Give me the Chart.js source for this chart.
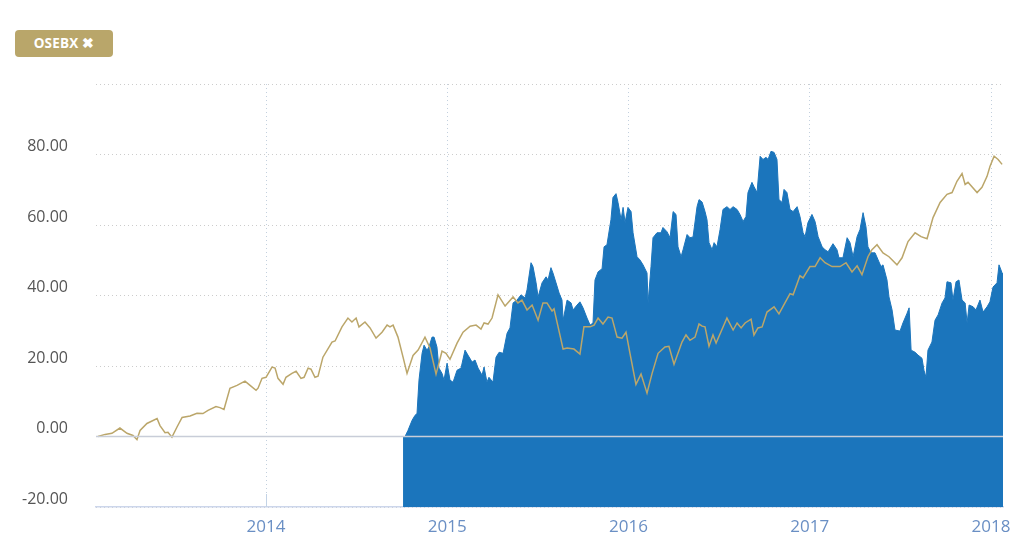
<!DOCTYPE html>
<html>
<head>
<meta charset="utf-8">
<script src="https://cdn.jsdelivr.net/npm/chart.js@4/dist/chart.umd.min.js"></script>
<style>
  html, body { margin: 0; padding: 0; background: #ffffff; }
  #wrap { position: relative; width: 1014px; height: 540px; }
  #c { position: absolute; left: 0; top: 0; }
  #badge {
    position: absolute; left: 15px; top: 30px; width: 98px; height: 27px;
    background: #b9a66a; border-radius: 4px; color: #ffffff;
    font-family: "Open Sans", sans-serif; font-weight: 700; font-size: 13.5px;
    line-height: 27px; text-align: center; letter-spacing: 0.2px;
  }
</style>
</head>
<body>
<div id="wrap">
  <canvas id="c" width="1014" height="540"></canvas>
  <div id="badge">OSEBX ✖</div>
</div>
<script>
// ---- Data ----
// x values are decimal years
const goldYears = [2013.073,2013.112,2013.150,2013.194,2013.233,2013.266,2013.288,2013.305,2013.343,2013.399,2013.415,2013.443,2013.459,2013.481,2013.509,2013.537,2013.581,2013.619,2013.652,2013.680,2013.724,2013.746,2013.768,2013.801,2013.840,2013.884,2013.912,2013.945,2013.956,2013.978,2014.000,2014.033,2014.050,2014.066,2014.094,2014.110,2014.143,2014.166,2014.193,2014.210,2014.232,2014.248,2014.270,2014.287,2014.314,2014.364,2014.381,2014.419,2014.452,2014.474,2014.497,2014.513,2014.546,2014.574,2014.607,2014.640,2014.668,2014.684,2014.701,2014.728,2014.756,2014.778,2014.811,2014.839,2014.877,2014.905,2014.938,2014.971,2014.993,2015.015,2015.054,2015.087,2015.126,2015.159,2015.186,2015.203,2015.225,2015.247,2015.280,2015.319,2015.363,2015.390,2015.412,2015.440,2015.468,2015.501,2015.528,2015.550,2015.578,2015.589,2015.639,2015.661,2015.699,2015.732,2015.754,2015.788,2015.810,2015.832,2015.859,2015.887,2015.909,2015.937,2015.964,2015.986,2016.008,2016.041,2016.069,2016.102,2016.130,2016.163,2016.201,2016.223,2016.251,2016.295,2016.317,2016.339,2016.367,2016.389,2016.406,2016.422,2016.444,2016.466,2016.483,2016.543,2016.577,2016.599,2016.621,2016.643,2016.676,2016.692,2016.714,2016.737,2016.764,2016.803,2016.830,2016.863,2016.891,2016.908,2016.946,2016.963,2017.001,2017.029,2017.057,2017.084,2017.123,2017.167,2017.200,2017.233,2017.261,2017.288,2017.321,2017.343,2017.371,2017.404,2017.437,2017.481,2017.509,2017.542,2017.581,2017.614,2017.647,2017.680,2017.719,2017.757,2017.785,2017.812,2017.840,2017.857,2017.873,2017.923,2017.950,2017.978,2017.994,2018.017,2018.039,2018.061];
const goldValues = [0,0.6,0.9,2.4,0.9,0.3,-0.9,1.7,3.7,5.1,3.1,1.1,1.2,-0.2,2.7,5.4,5.8,6.6,6.5,7.4,8.5,8.2,7.7,13.7,14.5,15.7,14.5,13.1,13.7,16.5,16.8,19.7,19.4,16.5,14.8,16.8,17.9,18.5,16.5,16.8,19.4,19.1,16.8,17.1,22.5,26.8,27.1,31.1,33.6,32.5,33.6,31.1,32.5,30.8,27.9,29.6,31.6,31.1,31.6,28.2,22.5,17.9,23.0,24.5,28.2,25.1,17.7,24.2,23.6,21.9,26.5,29.6,31.3,31.6,30.5,32.2,31.9,33.6,40.2,37.0,39.6,37.9,38.7,35.9,37.3,33.0,37.9,37.9,35.6,36.2,24.8,25.1,24.8,23.4,31.1,31.1,31.6,33.6,31.9,33.9,33.6,28.2,27.9,29.6,23.6,14.8,17.7,12.3,17.9,23.6,25.4,25.6,20.5,26.8,28.8,27.3,28.2,31.9,31.3,31.1,25.6,28.8,26.5,33.6,30.2,32.2,30.8,32.2,33.3,28.8,30.8,31.1,35.3,36.8,34.8,37.9,40.5,40.2,45.6,45.0,48.2,48.2,50.7,49.3,48.2,48.2,49.3,46.7,48.4,45.9,51.0,53.0,54.4,52.1,51.0,48.7,50.7,55.3,57.8,56.7,56.1,62.1,66.4,68.7,69.2,72.4,74.6,71.5,72.1,69.2,70.7,73.8,76.6,79.5,78.6,77.2];

const blueYears = [2014.756,2014.767,2014.783,2014.806,2014.822,2014.833,2014.844,2014.861,2014.872,2014.888,2014.899,2014.916,2014.927,2014.943,2014.954,2014.971,2014.982,2014.999,2015.015,2015.032,2015.054,2015.076,2015.098,2015.114,2015.137,2015.153,2015.170,2015.192,2015.203,2015.219,2015.230,2015.252,2015.269,2015.286,2015.308,2015.330,2015.346,2015.363,2015.385,2015.407,2015.429,2015.440,2015.462,2015.473,2015.490,2015.501,2015.523,2015.545,2015.556,2015.572,2015.583,2015.600,2015.617,2015.633,2015.639,2015.661,2015.683,2015.694,2015.716,2015.732,2015.749,2015.771,2015.788,2015.804,2015.815,2015.832,2015.854,2015.865,2015.881,2015.903,2015.914,2015.931,2015.942,2015.959,2015.970,2015.981,2015.997,2016.014,2016.025,2016.047,2016.063,2016.080,2016.102,2016.108,2016.124,2016.135,2016.157,2016.179,2016.190,2016.212,2016.229,2016.246,2016.262,2016.273,2016.290,2016.301,2016.323,2016.339,2016.356,2016.378,2016.389,2016.406,2016.422,2016.433,2016.444,2016.461,2016.472,2016.488,2016.505,2016.521,2016.543,2016.560,2016.577,2016.599,2016.615,2016.632,2016.648,2016.659,2016.681,2016.692,2016.709,2016.726,2016.742,2016.759,2016.770,2016.786,2016.803,2016.819,2016.830,2016.847,2016.858,2016.874,2016.891,2016.908,2016.930,2016.946,2016.963,2016.974,2016.990,2017.012,2017.029,2017.046,2017.068,2017.084,2017.101,2017.128,2017.150,2017.161,2017.183,2017.206,2017.222,2017.239,2017.261,2017.277,2017.294,2017.310,2017.321,2017.338,2017.360,2017.377,2017.393,2017.404,2017.426,2017.437,2017.454,2017.470,2017.498,2017.514,2017.537,2017.548,2017.559,2017.581,2017.597,2017.619,2017.630,2017.641,2017.652,2017.674,2017.691,2017.708,2017.730,2017.746,2017.757,2017.779,2017.790,2017.807,2017.823,2017.840,2017.857,2017.868,2017.879,2017.901,2017.917,2017.939,2017.956,2017.978,2017.994,2018.011,2018.033,2018.044,2018.061,2018.066];
const blueValues = [0,0,1.7,4.6,6.0,6.5,16.0,23.6,25.9,24.5,25.4,28.2,28.2,25.4,19.4,17.9,16.0,20.8,16.0,15.4,18.8,19.4,24.5,23.1,21.1,21.7,19.4,17.4,19.7,15.4,16.8,15.4,22.5,23.9,23.6,29.3,30.8,37.9,38.7,40.2,39.3,41.6,49.3,48.2,43.6,39.6,43.6,45.3,44.4,47.9,46.4,43.6,40.7,38.7,33.0,38.7,37.9,35.9,37.3,38.2,36.5,33.6,31.6,32.2,44.4,46.7,47.6,53.8,54.4,61.5,67.8,68.9,66.4,61.5,65.0,60.7,65.0,63.8,57.8,51.0,50.1,48.7,46.4,37.9,48.2,56.4,57.8,57.8,59.3,58.1,56.4,63.8,63.0,53.8,51.0,53.0,57.3,56.4,56.6,65.2,67.2,66.5,63.8,61.5,55.0,53.0,55.0,53.8,58.7,64.4,65.2,64.4,65.2,64.4,63.0,61.0,62.4,69.2,72.1,70.9,69.2,79.5,78.6,79.2,78.6,80.9,80.6,78.6,67.2,66.4,70.1,69.2,64.4,63.8,65.2,62.4,57.8,56.7,60.7,63.0,61.0,56.7,53.8,53.0,52.4,54.7,53.0,50.7,50.7,56.4,55.0,51.0,56.7,58.7,63.5,59.5,53.8,52.1,52.1,50.1,48.2,48.7,44.4,39.6,35.9,30.2,29.9,32.2,35.0,36.5,24.5,23.9,23.1,22.2,18.8,16.8,24.5,26.8,33.0,34.5,37.9,39.3,43.9,43.6,38.7,43.9,44.4,38.7,37.9,32.2,37.3,36.8,35.9,38.7,35.3,36.8,38.2,42.4,43.6,48.7,46.4,46.0];

const xTickYears = [2014, 2015, 2016, 2017, 2018];
const yTickValues = [-20, 0, 20, 40, 60, 80, 100];
const yTickLabels = ['-20.00', '0.00', '20.00', '40.00', '60.00', '80.00', ''];
const xRange = [2013.062, 2018.066];

// ---- Chart ----
const zeroLinePlugin = {
  id: 'zeroLine',
  beforeDatasetsDraw(chart) {
    // short inside tick marks at each year on the bottom axis (covered by the area where it exists)
    const xs = chart.scales.x;
    const a = chart.chartArea;
    const ctx = chart.ctx;
    ctx.save();
    ctx.strokeStyle = '#c3d3e6';
    ctx.lineWidth = 1;
    xTickYears.forEach(v => {
      const px = Math.round(xs.getPixelForValue(v)) + 0.5;
      ctx.beginPath();
      ctx.moveTo(px, a.bottom - 13);
      ctx.lineTo(px, a.bottom);
      ctx.stroke();
    });
    ctx.restore();
  },
  afterDatasetsDraw(chart) {
    const y = chart.scales.y.getPixelForValue(0);
    const a = chart.chartArea;
    const ctx = chart.ctx;
    ctx.save();
    ctx.strokeStyle = '#c8cdd8';
    ctx.lineWidth = 1.5;
    ctx.beginPath();
    ctx.moveTo(a.left, y);
    ctx.lineTo(a.right, y);
    ctx.stroke();
    ctx.restore();
  }
};

const toPoints = (xs, ys) => xs.map((x, i) => ({ x: x, y: ys[i] }));

new Chart(document.getElementById('c'), {
  type: 'line',
  data: {
    datasets: [
      {
        label: 'OSEBX',
        data: toPoints(goldYears, goldValues),
        borderColor: '#bba66a',
        borderWidth: 1.5,
        pointRadius: 0,
        fill: false,
        tension: 0,
        order: 0
      },
      {
        label: 'Fund',
        data: toPoints(blueYears, blueValues),
        borderColor: '#1b75bc',
        backgroundColor: '#1b75bc',
        borderWidth: 1,
        pointRadius: 0,
        fill: 'start',
        tension: 0,
        order: 1
      }
    ]
  },
  options: {
    responsive: false,
    animation: false,
    devicePixelRatio: 1,
    layout: { padding: { left: 0, top: 84, right: 11, bottom: 0 } },
    plugins: { legend: { display: false }, tooltip: { enabled: false } },
    scales: {
      x: {
        type: 'linear',
        min: xRange[0],
        max: xRange[1],
        afterBuildTicks: (axis) => { axis.ticks = xTickYears.map(v => ({ value: v })); },
        afterFit: (axis) => { axis.height = 33; axis.paddingLeft = 0; axis.paddingRight = 0; },
        ticks: {
          autoSkip: false,
          maxRotation: 0,
          padding: 10,
          color: '#6a8fc4',
          font: { family: 'Open Sans', size: 17 },
          callback: (v) => String(v)
        },
        grid: { color: '#c3d0de', lineWidth: 1, drawTicks: false },
        border: { display: true, color: '#ccd6eb', width: 1.5, dash: [1, 3] }
      },
      y: {
        type: 'linear',
        min: -20,
        max: 100,
        afterBuildTicks: (axis) => { axis.ticks = yTickValues.map(v => ({ value: v })); },
        afterFit: (axis) => { axis.width = 96; axis.paddingTop = 0; axis.paddingBottom = 0; },
        ticks: {
          padding: 28,
          labelOffset: -8,
          color: '#555555',
          font: { family: 'Open Sans', size: 16 },
          callback: (v) => yTickLabels[yTickValues.indexOf(v)]
        },
        grid: { color: '#cccccc', lineWidth: 1, drawTicks: false },
        border: { display: false, dash: [1, 3] }
      }
    }
  },
  plugins: [zeroLinePlugin]
});
</script>
</body>
</html>
